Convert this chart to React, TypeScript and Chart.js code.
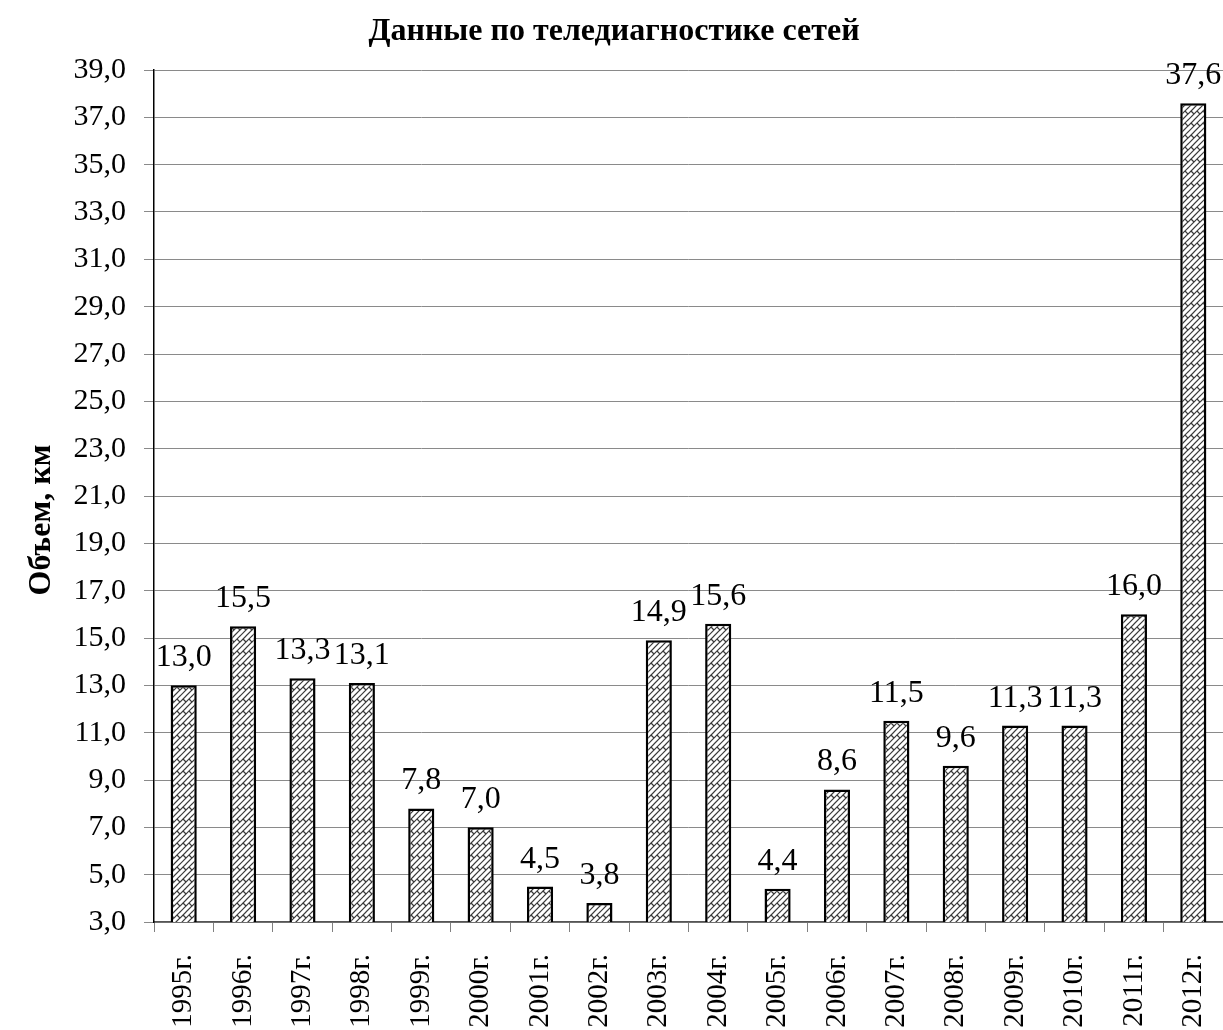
import React, { useEffect, useRef } from "react";
import { Chart, registerables } from "chart.js";

Chart.register(...registerables);

const categories = ["1995г.", "1996г.", "1997г.", "1998г.", "1999г.", "2000г.", "2001г.", "2002г.", "2003г.", "2004г.", "2005г.", "2006г.", "2007г.", "2008г.", "2009г.", "2010г.", "2011г.", "2012г."];
const values = [13.0, 15.5, 13.3, 13.1, 7.8, 7.0, 4.5, 3.8, 14.9, 15.6, 4.4, 8.6, 11.5, 9.6, 11.3, 11.3, 16.0, 37.6];
const yMin = 3;
const yMax = 39;
const yStep = 2;
const chartTitle = "Данные по теледиагностике сетей";
const yTitle = "Объем, км";

const FONT = "'Liberation Serif', 'Times New Roman', serif";

function fmt(v: number) {
  return v.toFixed(1).replace(".", ",");
}

function makePattern(): CanvasPattern | string {
  const c = document.createElement("canvas");
  const s = 12;
  c.width = s;
  c.height = s;
  const ctx = c.getContext("2d");
  if (!ctx) return "#ccc";
  ctx.fillStyle = "#fff";
  ctx.fillRect(0, 0, s, s);
  ctx.strokeStyle = "#3a3a3a";
  ctx.lineWidth = 1.2;
  const shifts = [-s, 0, s];
  const seg = (x1: number, y1: number, x2: number, y2: number) => {
    for (const dx of shifts) for (const dy of shifts) {
      ctx.beginPath();
      ctx.moveTo(x1 + dx, y1 + dy);
      ctx.lineTo(x2 + dx, y2 + dy);
      ctx.stroke();
    }
  };
  seg(0, 6, 6, 0);
  seg(0, 12, 12, 0);
  seg(6, 12, 12, 6);
  seg(3, 3, 6, 6);
  seg(9, 3, 12, 6);
  return ctx.createPattern(c, "repeat") || "#ccc";
}

export default function App() {
  const ref = useRef<HTMLCanvasElement | null>(null);
  useEffect(() => {
    if (!ref.current) return;
    const pattern = makePattern();
    const decor = {
      id: "decor",
      afterDatasetsDraw(chart: any) {
        const ctx = chart.ctx;
        const meta = chart.getDatasetMeta(0);
        ctx.save();
        ctx.fillStyle = "#000";
        ctx.font = `32px ${FONT}`;
        ctx.textAlign = "center";
        ctx.textBaseline = "alphabetic";
        meta.data.forEach((bar: any, i: number) => {
          ctx.fillText(fmt(values[i]), bar.x, bar.y - 19);
        });
        ctx.restore();
      },
      afterDraw(chart: any) {
        const ctx = chart.ctx;
        ctx.save();
        ctx.fillStyle = "#000";
        ctx.font = `bold 32px ${FONT}`;
        ctx.textAlign = "center";
        ctx.textBaseline = "alphabetic";
        ctx.fillText(chartTitle, 614, 40);
        ctx.translate(50, 520);
        ctx.rotate(-Math.PI / 2);
        ctx.font = `bold 32px ${FONT}`;
        ctx.fillText(yTitle, 0, 0);
        ctx.restore();
      },
    };
    const chart = new Chart(ref.current, {
      type: "bar",
      data: {
        labels: categories,
        datasets: [
          {
            data: values,
            backgroundColor: pattern as any,
            borderColor: "#000",
            borderWidth: 2.5,
            borderSkipped: false,
            barPercentage: 0.44,
            categoryPercentage: 1,
          },
        ],
      },
      options: {
        responsive: false,
        animation: false,
        layout: { padding: { top: 70, left: 0, right: 0, bottom: 0 } },
        plugins: {
          legend: { display: false },
          title: { display: false },
          tooltip: { enabled: false },
        },
        scales: {
          x: {
            offset: true,
            grid: {
              offset: true,
              drawOnChartArea: false,
              drawTicks: true,
              tickLength: 10,
              color: "#808080",
            },
            border: { display: true, color: "#555", width: 1.5 },
            ticks: {
              autoSkip: false,
              maxRotation: 90,
              minRotation: 90,
              padding: 22,
              color: "#000",
              font: { family: FONT, size: 29 },
            },
            afterFit(scale: any) {
              scale.height = 108;
              scale.paddingLeft = 0;
              scale.paddingRight = 0;
            },
          },
          y: {
            min: yMin,
            max: yMax,
            grid: {
              color: "#8a8a8a",
              lineWidth: 1,
              tickLength: 10,
            },
            border: { display: true, color: "#000", width: 1.5 },
            ticks: {
              stepSize: yStep,
              padding: 18,
              color: "#000",
              font: { family: FONT, size: 30 },
              callback: (v: any) => fmt(Number(v)),
            },
            afterFit(scale: any) {
              scale.width = 154;
              scale.paddingTop = 0;
              scale.paddingBottom = 0;
            },
          },
        },
      },
      plugins: [decor],
    });
    return () => chart.destroy();
  }, []);
  return (
    <div style={{ position: "absolute", left: 0, top: 0, width: 1223, height: 1030, background: "#fff" }}>
      <canvas ref={ref} width={1223} height={1030} style={{ width: 1223, height: 1030 }} />
    </div>
  );
}
